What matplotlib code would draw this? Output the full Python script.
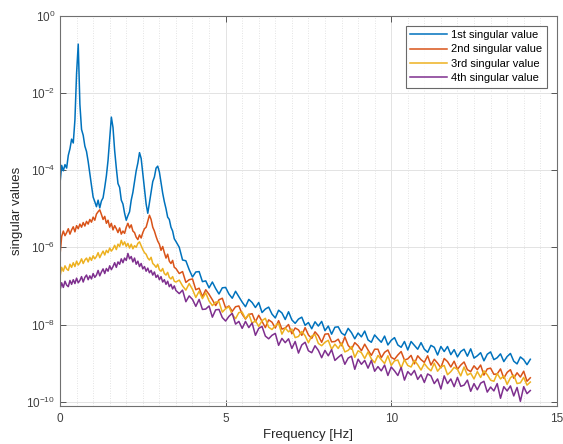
import numpy as np
import matplotlib
matplotlib.use("Agg")
import matplotlib.pyplot as plt
from matplotlib.ticker import FixedLocator, MultipleLocator, LogFormatterSciNotation

plt.rcParams["font.family"] = ["Liberation Sans", "DejaVu Sans"]
plt.rcParams["mathtext.fontset"] = "custom"
plt.rcParams["mathtext.rm"] = "Liberation Sans"
plt.rcParams["mathtext.it"] = "Liberation Sans:italic"
plt.rcParams["mathtext.bf"] = "Liberation Sans:bold"

# ---------------- data (log10 of singular values) -----
# frequency grid: 0.00..3.50 step 0.05, then 3.6..14.2 step 0.1
freq_lo = np.round(np.arange(0, 71) * 0.05, 2)
freq_hi = np.round(3.6 + np.arange(0, 107) * 0.1, 2)
freq = np.concatenate([freq_lo, freq_hi])

labels = ["1st singular value", "2nd singular value", "3rd singular value", "4th singular value"]

sv1_log10 = [
    -4.34, -3.88, -4.02, -3.86, -3.95, -3.62, -3.45, -3.20, -3.30, -2.70,
    -1.50, -0.74, -2.30, -2.95, -3.10, -3.38, -3.52, -3.78, -4.10, -4.40,
    -4.70, -4.82, -4.95, -4.78, -4.98, -4.80, -4.72, -4.45, -4.15, -3.75,
    -3.20, -2.63, -2.90, -3.50, -3.95, -4.35, -4.45, -4.78, -4.88, -5.12,
    -5.30, -5.18, -5.08, -4.78, -4.58, -4.30, -4.02, -3.82, -3.55, -3.70,
    -4.10, -4.48, -4.88, -5.12, -4.85, -4.58, -4.30, -4.18, -3.95, -3.90,
    -4.05, -4.32, -4.60, -4.82, -5.00, -5.22, -5.28, -5.48, -5.58, -5.78,
    -5.85,
    # 3.6 .. 14.2
    -6.00, -6.33, -6.35, -6.58, -6.77, -6.64, -6.63, -6.89, -6.87, -7.05,
    -6.90, -7.07, -7.21, -7.05, -7.04, -7.21, -7.32, -7.14, -7.28, -7.42,
    -7.54, -7.35, -7.43, -7.56, -7.43, -7.69, -7.60, -7.55, -7.73, -7.83,
    -7.63, -7.70, -7.87, -7.67, -7.88, -7.97, -7.86, -7.81, -8.02, -7.95,
    -8.11, -7.93, -8.04, -7.92, -8.16, -8.04, -8.25, -8.07, -8.06, -8.22,
    -8.28, -8.10, -8.21, -8.37, -8.22, -8.32, -8.17, -8.40, -8.46, -8.27,
    -8.37, -8.46, -8.30, -8.53, -8.41, -8.34, -8.53, -8.59, -8.44, -8.66,
    -8.44, -8.54, -8.64, -8.47, -8.64, -8.72, -8.54, -8.59, -8.79, -8.57,
    -8.70, -8.57, -8.78, -8.65, -8.84, -8.70, -8.64, -8.82, -8.63, -8.87,
    -8.81, -8.73, -8.94, -8.77, -8.71, -8.91, -8.86, -8.76, -8.96, -8.83,
    -8.75, -8.95, -9.02, -8.84, -8.91, -9.04, -8.90,
]

sv2_log10 = [
    -6.20, -5.72, -5.58, -5.70, -5.62, -5.52, -5.66, -5.55, -5.47, -5.60,
    -5.44, -5.52, -5.40, -5.48, -5.36, -5.45, -5.33, -5.40, -5.28, -5.35,
    -5.22, -5.30, -5.14, -5.08, -5.03, -5.15, -5.28, -5.20, -5.38, -5.30,
    -5.48, -5.38, -5.55, -5.44, -5.52, -5.62, -5.50, -5.66, -5.58, -5.64,
    -5.48, -5.38, -5.50, -5.42, -5.58, -5.62, -5.74, -5.80, -5.68, -5.76,
    -5.62, -5.52, -5.48, -5.32, -5.17, -5.28, -5.48, -5.58, -5.72, -5.84,
    -5.92, -6.08, -5.98, -6.14, -6.28, -6.18, -6.36, -6.42, -6.34, -6.52,
    -6.55,
    # 3.6 .. 14.2
    -6.68, -6.63, -6.91, -6.84, -6.82, -7.10, -7.06, -7.28, -7.10, -7.22,
    -7.36, -7.51, -7.36, -7.32, -7.57, -7.52, -7.66, -7.54, -7.52, -7.73,
    -7.86, -7.74, -7.72, -7.93, -7.76, -7.92, -8.08, -7.88, -7.94, -8.09,
    -7.90, -8.12, -8.09, -8.00, -8.24, -8.09, -8.14, -8.28, -8.08, -8.27,
    -8.36, -8.19, -8.29, -8.46, -8.25, -8.24, -8.45, -8.44, -8.38, -8.55,
    -8.32, -8.54, -8.64, -8.47, -8.55, -8.68, -8.51, -8.66, -8.80, -8.64,
    -8.64, -8.86, -8.72, -8.66, -8.85, -8.90, -8.79, -8.70, -8.92, -8.89,
    -8.80, -9.02, -8.81, -8.91, -8.98, -8.81, -9.05, -8.90, -9.00, -9.12,
    -8.88, -8.96, -9.10, -8.95, -9.16, -9.05, -8.97, -9.17, -9.22, -9.07,
    -9.17, -9.05, -9.31, -9.15, -9.13, -9.29, -9.28, -9.15, -9.39, -9.24,
    -9.17, -9.39, -9.25, -9.36, -9.21, -9.47, -9.38,
]

sv3_log10 = [
    -6.76, -6.52, -6.62, -6.48, -6.56, -6.60, -6.44, -6.52, -6.40, -6.50,
    -6.36, -6.46, -6.40, -6.30, -6.42, -6.33, -6.28, -6.38, -6.26, -6.34,
    -6.22, -6.30, -6.24, -6.14, -6.27, -6.18, -6.10, -6.20, -6.08, -6.14,
    -6.02, -6.10, -6.04, -5.95, -6.06, -5.92, -5.98, -5.82, -5.94, -5.86,
    -5.98, -5.90, -6.02, -5.92, -6.04, -5.96, -6.00, -5.90, -5.86, -5.96,
    -6.06, -6.14, -6.18, -6.28, -6.33, -6.26, -6.42, -6.46, -6.52, -6.44,
    -6.58, -6.62, -6.55, -6.68, -6.72, -6.65, -6.78, -6.82, -6.76, -6.88,
    -6.90,
    # 3.6 .. 14.2
    -6.85, -7.00, -7.11, -6.94, -7.09, -7.30, -7.14, -7.33, -7.18, -7.39,
    -7.51, -7.42, -7.41, -7.68, -7.59, -7.54, -7.74, -7.85, -7.69, -7.68,
    -7.85, -7.73, -7.97, -7.90, -8.05, -7.90, -7.84, -8.07, -8.13, -8.03,
    -7.97, -8.25, -8.09, -8.19, -8.12, -8.34, -8.31, -8.18, -8.29, -8.47,
    -8.30, -8.26, -8.49, -8.55, -8.46, -8.41, -8.64, -8.51, -8.62, -8.48,
    -8.71, -8.67, -8.57, -8.85, -8.68, -8.73, -8.88, -8.71, -8.89, -8.99,
    -8.80, -8.91, -9.01, -8.81, -9.06, -8.94, -8.92, -9.13, -8.91, -9.06,
    -9.10, -8.93, -9.04, -9.18, -9.01, -9.12, -9.20, -9.00, -9.21, -9.10,
    -9.06, -9.30, -9.22, -9.11, -9.16, -9.33, -9.10, -9.31, -9.26, -9.41,
    -9.22, -9.37, -9.20, -9.30, -9.44, -9.47, -9.27, -9.41, -9.33, -9.55,
    -9.38, -9.31, -9.53, -9.51, -9.37, -9.57, -9.49,
]

sv4_log10 = [
    -7.11, -6.92, -7.04, -6.88, -6.98, -7.02, -6.86, -6.96, -6.84, -6.94,
    -6.80, -6.92, -6.86, -6.76, -6.90, -6.78, -6.72, -6.84, -6.74, -6.82,
    -6.68, -6.78, -6.72, -6.60, -6.74, -6.64, -6.56, -6.68, -6.55, -6.62,
    -6.48, -6.58, -6.50, -6.40, -6.52, -6.38, -6.44, -6.30, -6.40, -6.28,
    -6.34, -6.16, -6.30, -6.24, -6.38, -6.28, -6.44, -6.36, -6.50, -6.42,
    -6.56, -6.50, -6.62, -6.54, -6.66, -6.60, -6.72, -6.64, -6.78, -6.72,
    -6.84, -6.76, -6.90, -6.84, -6.96, -6.88, -7.02, -6.96, -7.08, -7.00,
    -7.12,
    # 3.6 .. 14.2
    -7.20, -7.11, -7.41, -7.26, -7.35, -7.53, -7.35, -7.61, -7.60, -7.52,
    -7.81, -7.62, -7.61, -7.82, -7.91, -7.79, -7.71, -7.99, -7.92, -8.10,
    -7.92, -8.08, -7.96, -8.28, -8.10, -8.05, -8.30, -8.37, -8.28, -8.23,
    -8.54, -8.36, -8.47, -8.37, -8.62, -8.44, -8.74, -8.53, -8.46, -8.68,
    -8.73, -8.55, -8.67, -8.86, -8.67, -8.81, -8.65, -8.93, -8.85, -8.78,
    -9.03, -8.87, -8.82, -9.16, -8.90, -9.03, -8.93, -9.13, -8.93, -9.21,
    -9.09, -9.20, -9.05, -9.32, -9.10, -9.20, -9.32, -9.11, -9.44, -9.22,
    -9.31, -9.19, -9.42, -9.30, -9.50, -9.28, -9.33, -9.53, -9.41, -9.67,
    -9.33, -9.53, -9.41, -9.61, -9.37, -9.60, -9.57, -9.44, -9.73, -9.53,
    -9.69, -9.52, -9.47, -9.75, -9.62, -9.72, -9.53, -9.91, -9.61, -9.72,
    -9.59, -9.85, -9.63, -9.99, -9.61, -9.79, -9.71,
]

series = [sv1_log10, sv2_log10, sv3_log10, sv4_log10]
colors = ["#0072BD", "#D95319", "#EDB120", "#7E2F8E"]

ytick_vals = [1e-10, 1e-8, 1e-6, 1e-4, 1e-2, 1e0]
xtick_vals = [0, 5, 10, 15]

# ---------------- figure ------------------------------------------------------
fig = plt.figure(figsize=(5.63, 4.44), dpi=100)
ax = fig.add_axes([0.1066, 0.0856, 0.8824, 0.8794])

for vals, c, lab in zip(series, colors, labels):
    ax.plot(freq, 10.0 ** np.asarray(vals), color=c, lw=1.1, label=lab)

ax.set_yscale("log")
ax.set_xlim(0, 15)
ax.set_ylim(10 ** -10.11, 1.0)
ax.yaxis.set_major_locator(FixedLocator(ytick_vals))
ax.yaxis.set_major_formatter(LogFormatterSciNotation())
ax.yaxis.set_minor_locator(FixedLocator([]))
ax.set_xticks(xtick_vals)
ax.xaxis.set_minor_locator(MultipleLocator(0.5))

ax.grid(True, which="major", color="#e3e3e3", lw=0.7, ls="-")
ax.grid(True, which="minor", axis="x", color="#dadada", lw=0.6, ls=(0, (1, 2)))
ax.set_axisbelow(True)

ax.tick_params(which="major", direction="in", length=4, width=0.7, colors="#555555",
               labelsize=8.5, top=True, right=True, labelcolor="#404040")
ax.tick_params(axis="x", which="major", pad=5)
ax.tick_params(which="minor", length=0, top=True, right=True)
for sp in ax.spines.values():
    sp.set_color("#707070")
    sp.set_linewidth(0.8)

ax.set_xlabel("Frequency [Hz]", fontsize=9.5, color="#262626", labelpad=3)
ax.set_ylabel("singular values", fontsize=9.5, color="#262626", labelpad=2)

leg = ax.legend(loc="upper right", fontsize=8, frameon=True, fancybox=False,
                edgecolor="#444444", handlelength=3.3, handletextpad=0.4,
                borderpad=0.4, labelspacing=0.4, borderaxespad=0.9)
leg.get_frame().set_linewidth(0.8)

fig.savefig("out.png", dpi=100)
